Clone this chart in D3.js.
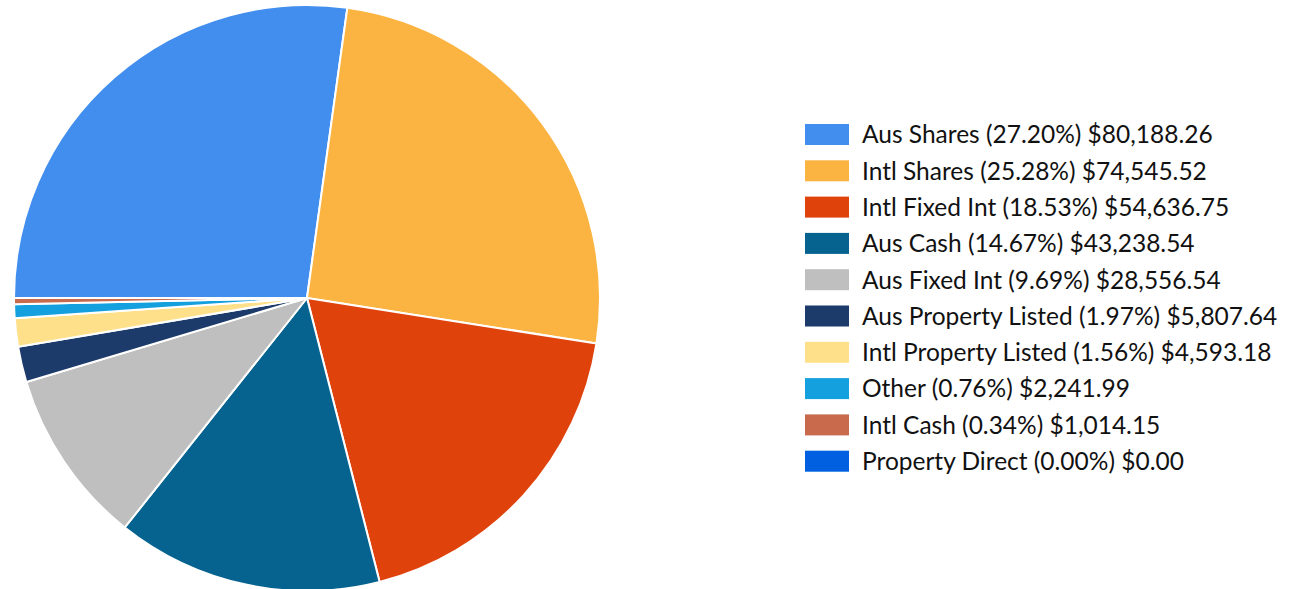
<!DOCTYPE html>
<html lang="en">
<head>
  <meta charset="utf-8">
  <title>Portfolio allocation</title>
  <script src="https://d3js.org/d3.v7.min.js"></script>
  <style>
    html, body { margin: 0; padding: 0; background: #fff; }
    svg { display: block; }
    .legend text { font-family: Lato, "Open Sans", sans-serif; font-size: 24.5px; fill: #111; }
  </style>
</head>
<body>
  <svg id="chart" width="1289" height="589"></svg>
  <script>
    const labels = ['Aus Shares', 'Intl Shares', 'Intl Fixed Int', 'Aus Cash', 'Aus Fixed Int',
      'Aus Property Listed', 'Intl Property Listed', 'Other', 'Intl Cash', 'Property Direct'];
    const percents = [27.20, 25.28, 18.53, 14.67, 9.69, 1.97, 1.56, 0.76, 0.34, 0.00];
    const amounts = [80188.26, 74545.52, 54636.75, 43238.54, 28556.54, 5807.64, 4593.18, 2241.99, 1014.15, 0];
    const colors = ['#428eee', '#fbb442', '#e0420c', '#06628e', '#bfbfbf',
      '#1c3a6a', '#ffe08a', '#14a0de', '#c96a4c', '#0060df'];

    const data = labels.map((l, i) => ({ label: l, pct: percents[i], amt: amounts[i], color: colors[i] }));

    const svg = d3.select('#chart');
    const cx = 307, cy = 298, r = 293;

    const pie = d3.pie().value(d => d.amt).sort(null)
      .startAngle(-Math.PI / 2).endAngle(1.5 * Math.PI);
    const arc = d3.arc().innerRadius(0).outerRadius(r);

    svg.append('g')
      .attr('transform', `translate(${cx},${cy})`)
      .selectAll('path')
      .data(pie(data))
      .enter().append('path')
        .attr('d', arc)
        .attr('fill', d => d.data.color)
        .attr('stroke', '#fff')
        .attr('stroke-width', 2)
        .attr('stroke-linejoin', 'round');

    // Legend
    const money = d3.format(',.2f');
    const legend = svg.append('g').attr('class', 'legend')
      .attr('transform', 'translate(805,124)');
    const rowH = 36.3;
    const rows = legend.selectAll('g')
      .data(data)
      .enter().append('g')
        .attr('transform', (d, i) => `translate(0,${i * rowH})`);
    rows.append('rect')
      .attr('width', 44).attr('height', 21)
      .attr('fill', d => d.color);
    rows.append('text')
      .attr('x', 57).attr('y', 10.5)
      .attr('dy', '0.36em')
      .text(d => `${d.label} (${d.pct.toFixed(2)}%) $${money(d.amt)}`);
  </script>
</body>
</html>
